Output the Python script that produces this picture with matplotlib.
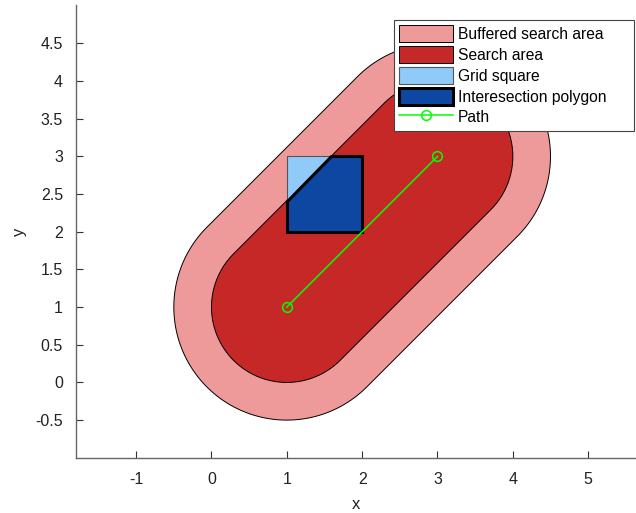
import numpy as np
import matplotlib
matplotlib.use("Agg")
import matplotlib.pyplot as plt
from matplotlib.patches import Polygon

plt.rcParams['font.family'] = ['Liberation Sans', 'DejaVu Sans']

# Data
path_x = [1, 3]
path_y = [1, 3]
search_radius = 1.0
buffer_radius = 1.5
grid_x = [1, 2, 2, 1]
grid_y = [2, 2, 3, 3]
labels = ["Buffered search area", "Search area", "Grid square",
          "Interesection polygon", "Path"]
xticks = [-1, 0, 1, 2, 3, 4, 5]
yticks = [-0.5, 0, 0.5, 1, 1.5, 2, 2.5, 3, 3.5, 4, 4.5]


def stadium(px, py, r, n=90):
    p0 = np.array([px[0], py[0]], float)
    p1 = np.array([px[1], py[1]], float)
    d = p1 - p0
    ang = np.arctan2(d[1], d[0])
    a1 = np.linspace(ang - np.pi / 2, ang + np.pi / 2, n)
    a0 = np.linspace(ang + np.pi / 2, ang + 3 * np.pi / 2, n)
    pts1 = np.c_[p1[0] + r * np.cos(a1), p1[1] + r * np.sin(a1)]
    pts0 = np.c_[p0[0] + r * np.cos(a0), p0[1] + r * np.sin(a0)]
    return np.vstack([pts1, pts0])


def clip(subject, clipper):
    # Sutherland-Hodgman, clipper convex CCW
    out = list(map(tuple, subject))
    cl = list(map(tuple, clipper))
    for i in range(len(cl)):
        a = np.array(cl[i]); b = np.array(cl[(i + 1) % len(cl)])
        inp = out; out = []
        if not inp:
            break
        def inside(p):
            return (b[0] - a[0]) * (p[1] - a[1]) - (b[1] - a[1]) * (p[0] - a[0]) >= -1e-12
        def inter(p, q):
            p = np.array(p); q = np.array(q)
            d1 = q - p; d2 = b - a
            den = d1[0] * d2[1] - d1[1] * d2[0]
            t = ((a[0] - p[0]) * d2[1] - (a[1] - p[1]) * d2[0]) / den
            return tuple(p + t * d1)
        s = inp[-1]
        for e in inp:
            if inside(e):
                if not inside(s):
                    out.append(inter(s, e))
                out.append(e)
            elif inside(s):
                out.append(inter(s, e))
            s = e
    return np.array(out)


buf = stadium(path_x, path_y, buffer_radius)
srch = stadium(path_x, path_y, search_radius)
square = np.c_[grid_x, grid_y]
inter_poly = clip(square, srch)

fig = plt.figure(figsize=(6.36, 5.13), dpi=100)
ax = fig.add_axes([75.5 / 636, 55 / 513, (636 - 75.5) / 636, (458 - 5) / 513])

h1 = ax.add_patch(Polygon(buf, closed=True, facecolor='#EE9A9A', edgecolor='black', lw=0.7))
h2 = ax.add_patch(Polygon(srch, closed=True, facecolor='#C62828', edgecolor='black', lw=0.7))
h3 = ax.add_patch(Polygon(square, closed=True, facecolor='#90CAF9', edgecolor='#555555', lw=0.8))
h4 = ax.add_patch(Polygon(inter_poly, closed=True, facecolor='#0D47A1', edgecolor='black', lw=2.2))
h5, = ax.plot(path_x, path_y, color='#00FF00', lw=1.1, marker='o', markersize=7,
              markerfacecolor='none', markeredgecolor='#00FF00', markeredgewidth=1.1)

ax.set_xlim(-1.805, 5.635)
ax.set_ylim(-1.003, 5.01)
ax.set_xticks(xticks)
ax.set_yticks(yticks)
ax.set_xticklabels([f"{v:g}" for v in xticks])
ax.set_yticklabels([f"{v:g}" for v in yticks])
for s in ['top', 'right']:
    ax.spines[s].set_visible(False)
for s in ['left', 'bottom']:
    ax.spines[s].set_color('#666666')
    ax.spines[s].set_linewidth(1.0)
ax.tick_params(direction='in', length=5, color='#333333', labelsize=11.5,
               labelcolor='#222222')
ax.tick_params(axis='x', pad=10)
ax.tick_params(axis='y', pad=9)
ax.set_xlabel('x', fontsize=12, color='#222222', labelpad=7)
ax.set_ylabel('y', fontsize=12, color='#222222', labelpad=6)

leg = ax.legend([h1, h2, h3, h4, h5], labels, loc='upper left',
                bbox_to_anchor=(0.568, 0.5, 0.4285, 0.467), mode='expand',
                fontsize=11.25, frameon=True,
                fancybox=False, framealpha=1, edgecolor='#444444',
                handlelength=3.45, handleheight=1.3, handletextpad=0.3,
                labelspacing=0.24, borderpad=0.35, borderaxespad=0.0)
leg.get_frame().set_linewidth(0.8)

fig.savefig('out.png', dpi=100)
